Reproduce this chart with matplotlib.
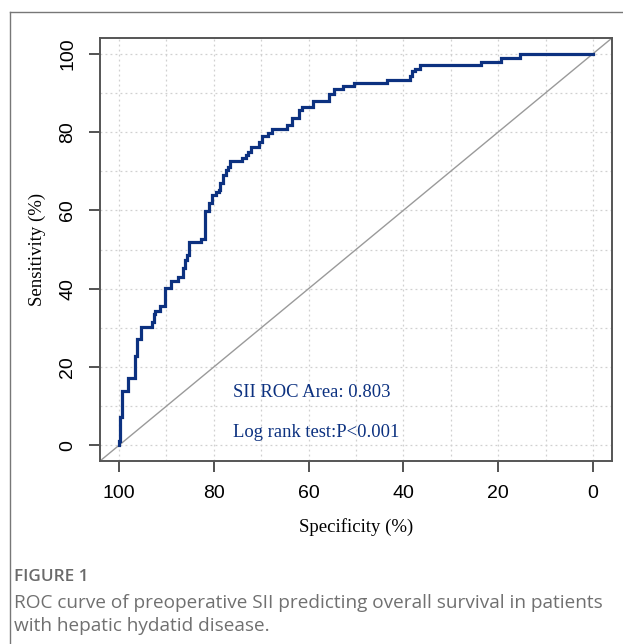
import matplotlib
matplotlib.use("Agg")
import matplotlib.pyplot as plt
import matplotlib.lines as mlines
import numpy as np

# ROC curve corners: at each specificity the sensitivity rises to the value
spec = [100, 100, 99.8, 99.4, 98.05, 96.65, 96.1, 95.25, 92.95, 92.6, 92.3, 91.4,
        90.2, 89.1, 87.6, 86.4, 86.0, 85.6, 85.15, 82.7, 81.95, 81.0, 80.3, 79.6,
        78.9, 78.6, 78.0, 77.4, 77.0, 76.5, 74.0, 73.3, 72.7, 72.2, 70.5, 69.9,
        68.6, 67.8, 64.6, 63.5, 62.1, 61.3, 59.0, 55.7, 54.7, 52.8, 50.4, 43.5,
        38.6, 38.1, 37.6, 36.5, 23.6, 19.5, 15.4, 0]
sens = [0, 1.1, 7.2, 13.9, 17.3, 22.8, 27.2, 30.2, 31.5, 33.6, 34.2, 35.5,
        40.1, 41.9, 42.9, 45.3, 47.2, 48.5, 52.0, 52.6, 59.9, 61.8, 63.8, 64.6,
        65.2, 67.1, 69.0, 70.2, 71.1, 72.7, 73.4, 74.2, 74.8, 76.1, 77.4, 79.1,
        79.8, 80.8, 81.8, 83.5, 85.5, 86.3, 87.9, 89.8, 90.9, 91.7, 92.5, 93.4,
        94.4, 95.5, 96.2, 97.1, 98.0, 98.9, 100, 100]

ticks = [100, 80, 60, 40, 20, 0]
auc_text = "SII ROC Area: 0.803"
p_text = "Log rank test:P<0.001"
caption_title = "FIGURE 1"
caption_lines = ["ROC curve of preoperative SII predicting overall survival in patients",
                 "with hepatic hydatid disease."]

curve_col = "#0c3180"
serif = ["Liberation Serif", "DejaVu Serif"]
sans = ["Liberation Sans", "DejaVu Sans"]

fig = plt.figure(figsize=(6.23, 6.44), dpi=100)
ax = fig.add_axes([100/623, 1 - 461/644, 512/623, 423/644])

ax.set_xlim(104, -4)
ax.set_ylim(-4, 104)

# light dotted grid every 10
for v in range(0, 101, 10):
    ax.axvline(v, color="#d0d0d0", lw=0.9, ls=(0, (1.5, 2.5)), zorder=0)
    ax.axhline(v, color="#d0d0d0", lw=0.9, ls=(0, (1.5, 2.5)), zorder=0)

# chance diagonal corner to corner
ax.plot([104, -4], [-4, 104], color="#9a9a9a", lw=1.0, zorder=1)

ax.plot(spec, sens, drawstyle="steps-post", color=curve_col, lw=2.3,
        solid_joinstyle="miter", zorder=3)

ax.text(59.4, 13.5, auc_text, ha="center", va="center", color=curve_col,
        fontsize=13.4, family=serif)
ax.text(58.5, 3.3, p_text, ha="center", va="center", color=curve_col,
        fontsize=13.4, family=serif)

ax.set_xticks(ticks)
ax.set_yticks(ticks)
ax.set_xticklabels([str(t) for t in ticks], family=sans, fontsize=14)
ax.set_yticklabels([str(t) for t in ticks], family=sans, fontsize=14,
                   rotation=90, va="center")
ax.tick_params(axis="both", length=8, width=1.3, color="#444444", pad=9)
ax.tick_params(axis="y", pad=9)

for s in ax.spines.values():
    s.set_color("#555555")
    s.set_linewidth(1.4)

ax.set_xlabel("Specificity (%)", family=serif, fontsize=13.5, labelpad=12)
ax.set_ylabel("Sensitivity (%)", family=serif, fontsize=13.5, labelpad=10)

# outer frame of the figure panel
fig.add_artist(mlines.Line2D([10/623, 1.0], [1 - 12/644, 1 - 12/644],
                             color="#777777", lw=1.0, transform=fig.transFigure))
fig.add_artist(mlines.Line2D([10/623, 10/623], [0, 1 - 12/644],
                             color="#777777", lw=1.0, transform=fig.transFigure))

cap_font = ["Open Sans", "DejaVu Sans"]
fig.text(14/623, 1 - 577/644, caption_title, ha="left", va="center",
         color="#6a6a6a", fontsize=12.3, family=cap_font, fontweight="semibold")
fig.text(14/623, 1 - 603/644, caption_lines[0], ha="left", va="center",
         color="#707070", fontsize=13.7, family=cap_font)
fig.text(14/623, 1 - 626/644, caption_lines[1], ha="left", va="center",
         color="#707070", fontsize=13.7, family=cap_font)

fig.savefig("out.png", dpi=100)
